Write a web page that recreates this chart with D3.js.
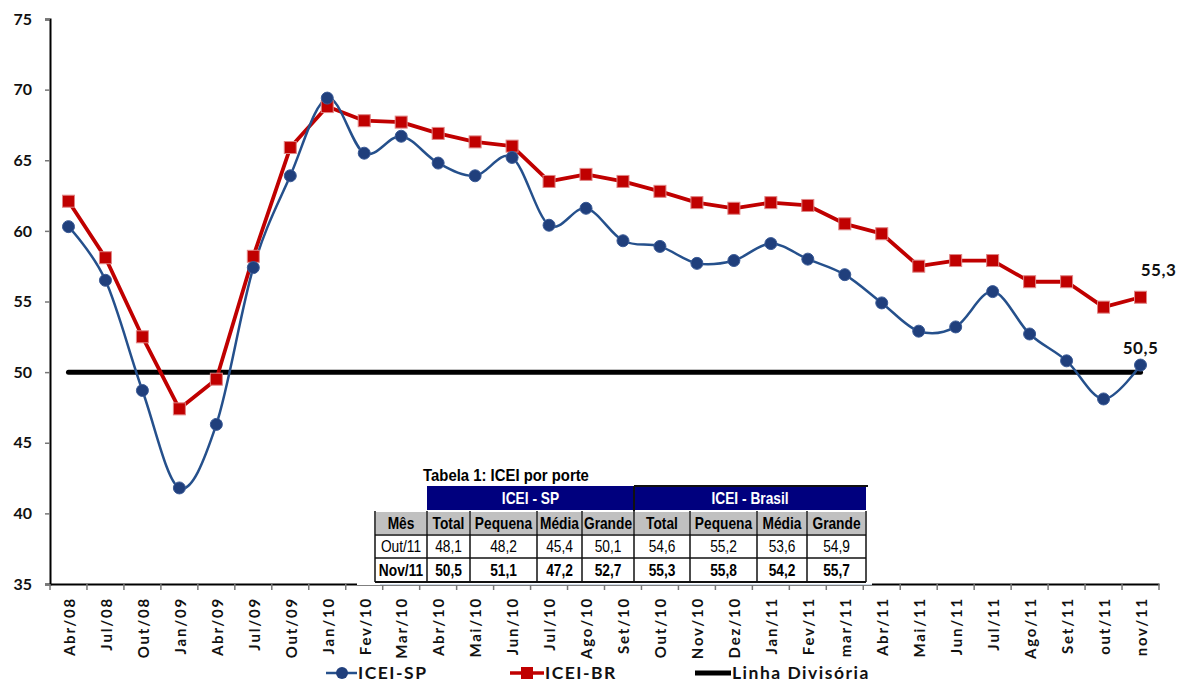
<!DOCTYPE html>
<html>
<head>
<meta charset="utf-8">
<script src="https://cdn.jsdelivr.net/npm/d3@7"></script>
<style>
  html, body { margin: 0; padding: 0; background: #fff; }
  svg { display: block; }
</style>
</head>
<body>
<svg id="chart" width="1179" height="684"></svg>
<script>
// ---------- DATA ----------
const categories = ["Abr/08","Jul/08","Out/08","Jan/09","Abr/09","Jul/09","Out/09","Jan/10","Fev/10","Mar/10",
  "Abr/10","Mai/10","Jun/10","Jul/10","Ago/10","Set/10","Out/10","Nov/10","Dez/10","Jan/11",
  "Fev/11","mar/11","Abr/11","Mai/11","Jun/11","Jul/11","Ago/11","Set/11","out/11","nov/11"];
const iceiSP = [60.3,56.5,48.7,41.8,46.3,57.4,63.9,69.4,65.5,66.7,
  64.8,63.9,65.2,60.4,61.6,59.3,58.9,57.7,57.9,59.1,
  58.0,56.9,54.9,52.9,53.2,55.7,52.7,50.8,48.1,50.5];
const iceiBR = [62.1,58.1,52.5,47.4,49.5,58.2,65.9,68.8,67.8,67.7,
  66.9,66.3,66.0,63.5,64.0,63.5,62.8,62.0,61.6,62.0,
  61.8,60.5,59.8,57.5,57.9,57.9,56.4,56.4,54.6,55.3];
const linhaDivisoria = 50;
const yTicks = [35,40,45,50,55,60,65,70,75];
const seriesNames = ["ICEI-SP","ICEI-BR","Linha Divisória"];
const endLabels = ["50,5","55,3"];

const tableTitle = "Tabela 1: ICEI por porte";
const tableGroups = ["ICEI - SP","ICEI - Brasil"];
const tableCols = ["Mês","Total","Pequena","Média","Grande","Total","Pequena","Média","Grande"];
const tableRowOut = ["Out/11","48,1","48,2","45,4","50,1","54,6","55,2","53,6","54,9"];
const tableRowNov = ["Nov/11","50,5","51,1","47,2","52,7","55,3","55,8","54,2","55,7"];

// ---------- LAYOUT ----------
const svg = d3.select("#chart");
const L = 50, R = 1159, T = 19, B = 584;
const font = "Lato, 'Open Sans', sans-serif";
const narrow = "'Liberation Sans', Arial, sans-serif";

const x = d3.scaleBand().domain(categories).range([L, R]);
const cx = c => x(c) + x.bandwidth() / 2;
const y = d3.scaleLinear().domain([35, 75]).range([B, T]);

const blueLine = "#25508c", blueFill = "#203f7c";
const red = "#c00000", redEdge = "#e08585";

// ---------- AXES ----------
const yAxis = d3.axisLeft(y).tickValues(yTicks).tickSize(5).tickPadding(13);
const gy = svg.append("g").attr("transform", `translate(${L},0)`).call(yAxis);
gy.select(".domain").attr("stroke", "#000").attr("stroke-width", 2);
gy.selectAll(".tick line").attr("stroke", "#777").attr("stroke-width", 1.5);
gy.selectAll(".tick text").attr("font-family", font).attr("font-weight", "bold")
  .attr("font-size", 16).attr("fill", "#111");

const xAxis = d3.axisBottom(x).tickSize(0).tickPadding(0);
const gx = svg.append("g").attr("transform", `translate(0,${B})`).call(xAxis);
gx.select(".domain").attr("stroke", "#000").attr("stroke-width", 2);
gx.selectAll(".tick text")
  .attr("font-family", font).attr("font-weight", "bold").attr("font-size", 15).attr("fill", "#111")
  .attr("letter-spacing", "1.8px")
  .attr("text-anchor", "end").attr("transform", "rotate(-90)")
  .attr("x", -13).attr("y", 0).attr("dy", "0.42em");
// boundary ticks
const boundaries = categories.map(c => x(c)).concat([x(categories[categories.length - 1]) + x.bandwidth()]);
gx.selectAll(".btick").data(boundaries).enter().append("line")
  .attr("x1", d => d).attr("x2", d => d).attr("y1", 0).attr("y2", 6)
  .attr("stroke", "#777").attr("stroke-width", 1.5);

// ---------- DIVIDING LINE ----------
svg.append("line")
  .attr("x1", cx(categories[0])).attr("x2", cx(categories[categories.length - 1]))
  .attr("y1", y(linhaDivisoria)).attr("y2", y(linhaDivisoria))
  .attr("stroke", "#000").attr("stroke-width", 5).attr("stroke-linecap", "round");

// ---------- SERIES ----------
const spPts = categories.map((c, i) => [cx(c), y(iceiSP[i])]);
const brPts = categories.map((c, i) => [cx(c), y(iceiBR[i])]);

svg.append("path").attr("d", d3.line().curve(d3.curveLinear)(brPts))
  .attr("fill", "none").attr("stroke", red).attr("stroke-width", 3.8).attr("stroke-linejoin", "round");
svg.append("path").attr("d", d3.line().curve(d3.curveCatmullRom.alpha(0))(spPts))
  .attr("fill", "none").attr("stroke", blueLine).attr("stroke-width", 2.5);

svg.selectAll(".brm").data(brPts).enter().append("rect")
  .attr("x", d => d[0] - 6).attr("y", d => d[1] - 6).attr("width", 12).attr("height", 12)
  .attr("fill", red).attr("stroke", redEdge).attr("stroke-width", 1);
svg.selectAll(".spm").data(spPts).enter().append("circle")
  .attr("cx", d => d[0]).attr("cy", d => d[1]).attr("r", 6)
  .attr("fill", blueFill).attr("stroke", "#3a5a96").attr("stroke-width", 1);

// end labels
const last = categories[categories.length - 1];
svg.append("text").attr("x", cx(last)).attr("y", y(iceiSP[iceiSP.length - 1]) - 11)
  .attr("text-anchor", "middle").attr("font-family", font).attr("font-weight", "bold")
  .attr("font-size", 17).attr("letter-spacing", "0.5px").attr("fill", "#111").text(endLabels[0]);
svg.append("text").attr("x", cx(last) + 18).attr("y", y(iceiBR[iceiBR.length - 1]) - 21)
  .attr("text-anchor", "middle").attr("font-family", font).attr("font-weight", "bold")
  .attr("font-size", 17).attr("letter-spacing", "0.5px").attr("fill", "#111").text(endLabels[1]);

// ---------- TABLE ----------
const colX = [375, 427, 470, 537, 582, 634, 690, 757, 807, 866];
const rowY = [486, 511, 535, 558, 582];
const tg = svg.append("g");
function ntext(px, py, str, opts) {
  const o = Object.assign({ size: 16, weight: "bold", fill: "#000", sx: 0.86 }, opts || {});
  return tg.append("text")
    .attr("transform", `translate(${px},${py}) scale(${o.sx},1)`)
    .attr("text-anchor", "middle").attr("dy", "0.36em")
    .attr("font-family", narrow).attr("font-weight", o.weight).attr("font-size", o.size)
    .attr("fill", o.fill).text(str);
}
tg.append("rect").attr("x", 357).attr("y", 462).attr("width", 515).attr("height", 123).attr("fill", "#fff");
tg.append("line").attr("x1", 380).attr("x2", 872).attr("y1", B + 0.5).attr("y2", B + 0.5)
  .attr("stroke", "#cdd9e6").attr("stroke-width", 1);
ntext(506, 475, tableTitle, { size: 16, sx: 0.93 });
// group headers
[[colX[1], colX[5]], [colX[5], colX[9]]].forEach((span, i) => {
  tg.append("rect").attr("x", span[0]).attr("y", rowY[0]).attr("width", span[1] - span[0])
    .attr("height", rowY[1] - rowY[0] - 1).attr("fill", "#00007e");
  ntext((span[0] + span[1]) / 2, (rowY[0] + rowY[1]) / 2, tableGroups[i], { fill: "#fff" });
});
tg.append("line").attr("x1", colX[5]).attr("x2", colX[9] + 2).attr("y1", rowY[0]).attr("y2", rowY[0])
  .attr("stroke", "#111").attr("stroke-width", 2);
tg.append("line").attr("x1", colX[5]).attr("x2", colX[5]).attr("y1", rowY[0]).attr("y2", rowY[1])
  .attr("stroke", "#111").attr("stroke-width", 2);
// column header row
tableCols.forEach((c, i) => {
  tg.append("rect").attr("x", colX[i] + 1).attr("y", rowY[1] + 1).attr("width", colX[i + 1] - colX[i] - 2)
    .attr("height", rowY[2] - rowY[1] - 2).attr("fill", "#c0c0c0");
  ntext((colX[i] + colX[i + 1]) / 2, (rowY[1] + rowY[2]) / 2, c);
});
// data rows
[tableRowOut, tableRowNov].forEach((row, r) => {
  row.forEach((v, i) => {
    ntext((colX[i] + colX[i + 1]) / 2, (rowY[2 + r] + rowY[3 + r]) / 2, v,
      { weight: r === 1 ? "bold" : "normal" });
  });
});
// grid lines
colX.forEach(cxp => {
  tg.append("line").attr("x1", cxp).attr("x2", cxp).attr("y1", rowY[1]).attr("y2", rowY[4])
    .attr("stroke", "#111").attr("stroke-width", 1.5);
});
[rowY[2], rowY[3]].forEach(yy => {
  tg.append("line").attr("x1", colX[0]).attr("x2", colX[9]).attr("y1", yy).attr("y2", yy)
    .attr("stroke", "#111").attr("stroke-width", 1.5);
});
tg.append("line").attr("x1", colX[0]).attr("x2", colX[9]).attr("y1", rowY[4]).attr("y2", rowY[4])
  .attr("stroke", "#111").attr("stroke-width", 2);

// ---------- LEGEND ----------
const ly = 673;
const lg = svg.append("g").attr("font-family", font).attr("font-weight", "bold").attr("font-size", 17.5)
  .attr("letter-spacing", "1.5px").attr("fill", "#111");
lg.append("line").attr("x1", 326).attr("x2", 357).attr("y1", ly).attr("y2", ly).attr("stroke", blueLine).attr("stroke-width", 2.5);
lg.append("circle").attr("cx", 342).attr("cy", ly).attr("r", 6).attr("fill", blueFill);
lg.append("text").attr("x", 358).attr("y", ly).attr("dy", "0.36em").text(seriesNames[0]);
lg.append("line").attr("x1", 510).attr("x2", 544).attr("y1", ly).attr("y2", ly).attr("stroke", red).attr("stroke-width", 3.5);
lg.append("rect").attr("x", 521).attr("y", ly - 6).attr("width", 12).attr("height", 12).attr("fill", red);
lg.append("text").attr("x", 545).attr("y", ly).attr("dy", "0.36em").text(seriesNames[1]);
lg.append("line").attr("x1", 695).attr("x2", 731).attr("y1", ly).attr("y2", ly).attr("stroke", "#000").attr("stroke-width", 5);
lg.append("text").attr("x", 732).attr("y", ly).attr("dy", "0.36em").text(seriesNames[2]);
</script>
</body>
</html>
